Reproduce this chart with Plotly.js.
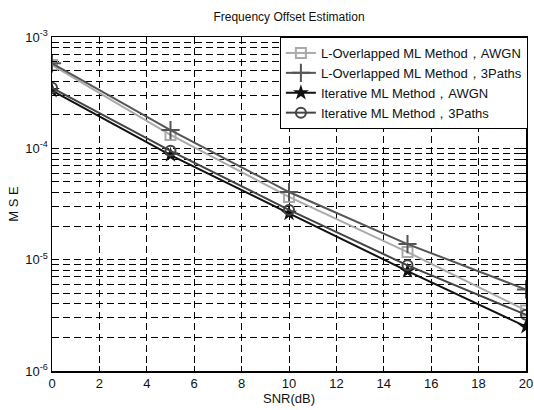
<!DOCTYPE html>
<html><head><meta charset="utf-8">
<script src="https://cdn.plot.ly/plotly-3.0.1.min.js"></script>
<style>body{margin:0;background:#fff}#c{width:534px;height:410px}</style>
</head><body><div id="c"></div>
<script>
const snr = [0, 5, 10, 15, 20];
const lOverAWGN = [5.6e-4, 1.32e-4, 3.66e-5, 1.17e-5, 3.5e-6];
const lOver3P = [5.8e-4, 1.46e-4, 4.05e-5, 1.38e-5, 5.4e-6];
const iterAWGN = [3.3e-4, 8.7e-5, 2.6e-5, 7.9e-6, 2.5e-6];
const iter3P = [3.5e-4, 9.5e-5, 2.8e-5, 8.9e-6, 3.2e-6];
const names = ["L-Overlapped ML Method，AWGN", "L-Overlapped ML Method，3Paths", "Iterative ML Method，AWGN", "Iterative ML Method，3Paths"];
const xTicks = [0, 2, 4, 6, 8, 10, 12, 14, 16, 18, 20];
const yMajor = [1e-6, 1e-5, 1e-4, 1e-3];
const yMajorText = ["10<sup>-6</sup>", "10<sup>-5</sup>", "10<sup>-4</sup>", "10<sup>-3</sup>"];

const yMinor = [];
for (let e = -6; e < -3; e++) {
  for (let d = 2; d <= 9; d++) yMinor.push(d * Math.pow(10, e));
}

const font = {family: "Liberation Sans, Arial, sans-serif", color: "#111"};
const traces = [
  {x: snr, y: lOverAWGN, name: names[0], mode: "lines+markers",
   line: {color: "#aaaaaa", width: 2}, marker: {symbol: "square-open", size: 10, color: "#aaaaaa", line: {width: 2}}},
  {x: snr, y: lOver3P, name: names[1], mode: "lines+markers",
   line: {color: "#555555", width: 2}, marker: {symbol: "cross-thin-open", size: 13, color: "#555555", line: {width: 2, color: "#555555"}}},
  {x: snr, y: iterAWGN, name: names[2], mode: "lines+markers",
   line: {color: "#111111", width: 2}, marker: {symbol: "star", size: 12, color: "#111111"}},
  {x: snr, y: iter3P, name: names[3], mode: "lines+markers",
   line: {color: "#444444", width: 2}, marker: {symbol: "circle-open", size: 10, color: "#444444", line: {width: 2}}}
];
const gd = "7px,4px";
const layout = {
  width: 534, height: 410,
  margin: {l: 52, r: 6, t: 37, b: 39},
  paper_bgcolor: "#fff", plot_bgcolor: "#fff",
  font: Object.assign({size: 12}, font),
  title: {text: "Frequency Offset Estimation", x: 0.5, xref: "paper", y: 0.96, yanchor: "middle", font: Object.assign({size: 12}, font)},
  xaxis: {
    range: [0, 20], tickvals: xTicks, ticks: "inside", ticklen: 5, tickcolor: "#000",
    showline: true, linecolor: "#000", linewidth: 1.5, mirror: "allticks", automargin: false,
    showgrid: true, gridcolor: "#000", gridwidth: 1, griddash: gd, zeroline: false,
    tickfont: Object.assign({size: 13}, font),
    title: {text: "SNR(dB)", standoff: 2, font: Object.assign({size: 13}, font)}
  },
  yaxis: {
    type: "log", range: [-6, -3], tickvals: yMajor, ticktext: yMajorText, ticks: "inside", ticklen: 5, tickcolor: "#000",
    showline: true, linecolor: "#000", linewidth: 1.5, mirror: "allticks", automargin: false,
    showgrid: true, gridcolor: "#000", gridwidth: 1, griddash: gd, zeroline: false,
    minor: {tickvals: yMinor, ticks: "inside", ticklen: 5, tickcolor: "#000", showgrid: true, gridcolor: "#000", gridwidth: 1, griddash: gd},
    tickfont: Object.assign({size: 13}, font),
    title: {text: "M S E", standoff: 4, font: Object.assign({size: 13}, font)}
  },
  legend: {
    x: 1.004, y: 1, xanchor: "right", yanchor: "top",
    bgcolor: "#fff", bordercolor: "#000", borderwidth: 1,
    font: Object.assign({size: 13}, font), itemwidth: 30, tracegroupgap: 0
  },
  showlegend: true
};
Plotly.newPlot("c", traces, layout, {displayModeBar: false, staticPlot: true});
</script></body></html>
